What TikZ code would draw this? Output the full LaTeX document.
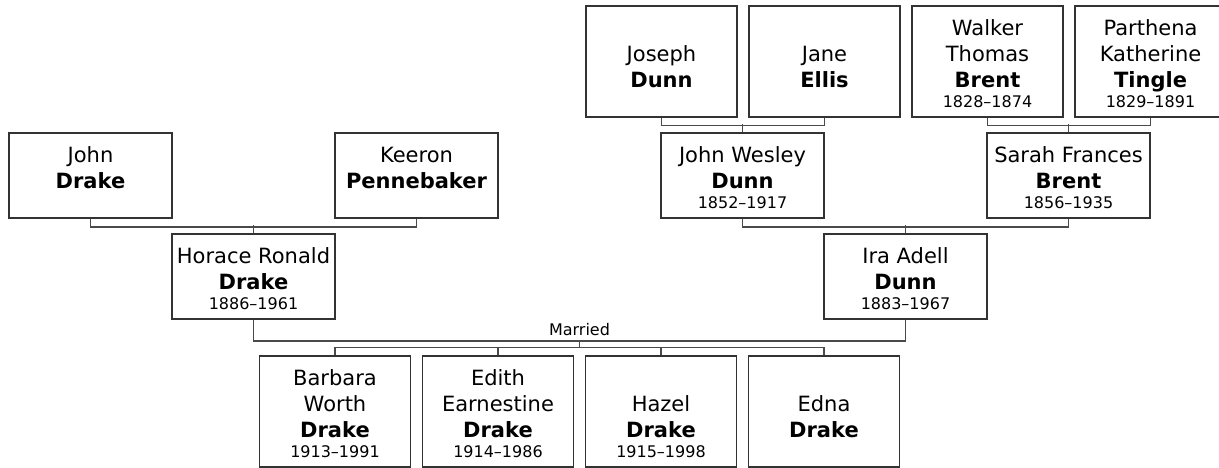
\documentclass[tikz,border=0pt]{standalone}
\usepackage{fontspec}
\setmainfont{DejaVu Sans}
\definecolor{boxline}{HTML}{333333}
\definecolor{connline}{HTML}{4A4A4A}
\newcommand\person[7]{%
  \node[pbox, minimum width=#4pt, minimum height=#5pt] (#1) at (#2,#3) {};
  \node[ptext, anchor=base] (#1n) at ([yshift=30pt]#1.south) {\parbox[b]{170pt}{\centering\fontsize{21}{26}\selectfont #6}};
  \node[ytext, anchor=base] (#1y) at ([yshift=10pt]#1.south) {#7};
}
\begin{document}
\begin{tikzpicture}[x=1pt,y=-1pt,
  pbox/.style={draw=boxline, line width=1.4pt, fill=white, inner sep=0pt, rectangle},
  ptext/.style={inner sep=0pt, text=black},
  ytext/.style={inner sep=0pt, text=black, font=\fontsize{16}{19}\selectfont},
  conn/.style={draw=connline, line width=1.6pt}]
\useasboundingbox (0,0) rectangle (1219,468);
% top row
\person{jos}{661.5}{61.5}{151}{111}{Joseph\\\textbf{Dunn}}{}
\person{jan}{824.5}{61.5}{151}{111}{Jane\\\textbf{Ellis}}{}
\person{wal}{987.5}{61.5}{151}{111}{Walker\\Thomas\\\textbf{Brent}}{1828–1874}
\person{par}{1150.5}{61.5}{151}{111}{Parthena\\Katherine\\\textbf{Tingle}}{1829–1891}
% second row
\person{joh}{90.5}{175.5}{163}{85}{John\\\textbf{Drake}}{}
\person{kee}{416.5}{175.5}{163}{85}{Keeron\\\textbf{Pennebaker}}{}
\person{jwd}{742.5}{175.5}{163}{85}{John Wesley\\\textbf{Dunn}}{1852–1917}
\person{sar}{1068.5}{175.5}{163}{85}{Sarah Frances\\\textbf{Brent}}{1856–1935}
% third row
\person{hor}{253.5}{276.5}{163}{85}{Horace Ronald\\\textbf{Drake}}{1886–1961}
\person{ira}{905.5}{276.5}{163}{85}{Ira Adell\\\textbf{Dunn}}{1883–1967}
% children
\person{bar}{335}{411.5}{151}{111}{Barbara\\Worth\\\textbf{Drake}}{1913–1991}
\person{edi}{498}{411.5}{151}{111}{Edith\\Earnestine\\\textbf{Drake}}{1914–1986}
\person{haz}{661}{411.5}{151}{111}{Hazel\\\textbf{Drake}}{1915–1998}
\person{edn}{824}{411.5}{151}{111}{Edna\\\textbf{Drake}}{}
% connectors
\draw[conn] (jos.south) -- ++(0,8) -| (jan.south);
\draw[conn] (jwd.north) -- ++(0,-8);
\draw[conn] (wal.south) -- ++(0,8) -| (par.south);
\draw[conn] (sar.north) -- ++(0,-8);
\draw[conn] (joh.south) -- ++(0,8) -| (kee.south);
\draw[conn] (hor.north) -- ++(0,-8);
\draw[conn] (jwd.south) -- ++(0,8) -| (sar.south);
\draw[conn] (ira.north) -- ++(0,-8);
\draw[conn] (hor.south) -- ++(0,21) -| (ira.south);
\coordinate (mid) at (579.5,340);
\node[ytext, anchor=base] (mar) at (579.5,335.5) {Married};
\draw[conn] (mid) -- ++(0,8);
\draw[conn] (bar.north) -- ++(0,-8) -| (edn.north);
\draw[conn] (edi.north) -- ++(0,-8);
\draw[conn] (haz.north) -- ++(0,-8);
\end{tikzpicture}
\end{document}
